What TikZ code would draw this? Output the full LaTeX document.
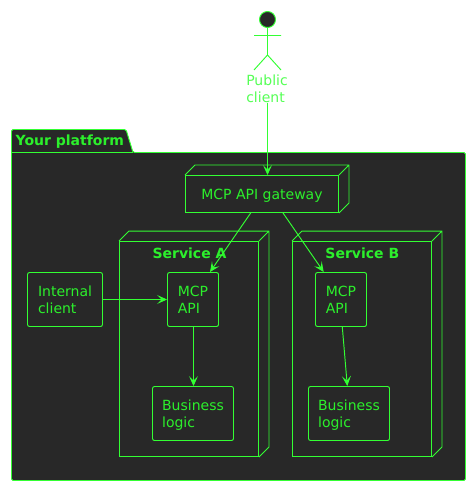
\documentclass[tikz,border=0pt]{standalone}
\usepackage{fontspec}
\setmainfont{DejaVu Sans}
\usetikzlibrary{arrows.meta}
\definecolor{grn}{HTML}{33FF33}
\definecolor{txt}{HTML}{2CF02C}
\definecolor{pub}{HTML}{55FF55}
\definecolor{bg}{HTML}{282828}
\tikzset{
  every node/.style={font=\fontsize{14}{17}\selectfont},
  base/.style={draw=grn,line width=0.95pt},
  boxa/.style={base,rectangle,rounded corners=2pt,fill=bg,text=txt,align=left,inner sep=0pt,anchor=center},
  frontface/.style={base,rectangle,fill=bg,inner sep=0pt,anchor=center},
  arr/.style={draw=grn,line width=0.95pt,-{Stealth[length=10pt,width=9pt,inset=4.5pt,fill=grn]}},
  lbl/.style={text=txt,inner sep=0pt,anchor=center,font=\fontsize{14}{17}\selectfont\bfseries},
}
\begin{document}
\begin{tikzpicture}[x=1pt,y=-1pt]
\useasboundingbox[fill=white] (0,0) rectangle (471,486);
% package
\draw[base,fill=bg,rounded corners=1.5pt] (11.5,152.5) -- (11.5,129.5) -- (126,129.5) -- (133,152.5) -- (465.5,152.5) -- (465.5,480.5) -- (11.5,480.5) -- cycle;
\draw[base] (11.5,152.5) -- (133,152.5);
\node[lbl,anchor=west] (pkg) at (15.5,140.5) {Your \smash{p}latform};
% actor
\node[circle,base,fill=bg,minimum size=16pt,inner sep=0pt] (head) at (267.5,19.5) {};
\coordinate (hip) at (267.5,55);
\coordinate (armL) at (254,35.5);
\coordinate (armR) at (281,35.5);
\coordinate (legL) at (254,70);
\coordinate (legR) at (281,70);
\draw[base] (head.south) -- (hip) (armL) -- (armR) (legL) -- (hip) -- (legR);
\node[text=pub,align=left,inner sep=0pt,anchor=center] (public) at (267,88.5) {Public\\client};
% gateway
\node[frontface,minimum width=153pt,minimum height=37pt,text=txt] (gw) at (262,194) {MCP API \smash{g}atewa\smash{y}};
\draw[base,line join=miter] (gw.north west) -- ([shift={(10pt,10pt)}]gw.north west) -- ([shift={(10pt,10pt)}]gw.north east) -- ([shift={(10pt,10pt)}]gw.south east) -- (gw.south east) (gw.north east) -- ([shift={(10pt,10pt)}]gw.north east);
% services
\node[frontface,minimum width=139pt,minimum height=215pt] (sa) at (189,349) {};
\draw[base,line join=miter] (sa.north west) -- ([shift={(10pt,10pt)}]sa.north west) -- ([shift={(10pt,10pt)}]sa.north east) -- ([shift={(10pt,10pt)}]sa.south east) -- (sa.south east) (sa.north east) -- ([shift={(10pt,10pt)}]sa.north east);
\node[lbl] (sal) at (189.5,253) {Service A};
\node[frontface,minimum width=139pt,minimum height=215pt] (sb) at (362,349) {};
\draw[base,line join=miter] (sb.north west) -- ([shift={(10pt,10pt)}]sb.north west) -- ([shift={(10pt,10pt)}]sb.north east) -- ([shift={(10pt,10pt)}]sb.south east) -- (sb.south east) (sb.north east) -- ([shift={(10pt,10pt)}]sb.north east);
\node[lbl] (sbl) at (362.3,253) {Service B};
% boxes
\node[boxa,minimum width=75pt,minimum height=54pt] (ic) at (65,299.5) {Internal\\client};
\node[boxa,minimum width=51pt,minimum height=54pt] (ma) at (193,299.5) {MCP\\API};
\node[boxa,minimum width=51pt,minimum height=54pt] (mb) at (341,299.5) {MCP\\API};
\node[boxa,minimum width=81pt,minimum height=54pt] (ba) at (193,413.5) {Business\\lo\smash{g}ic};
\node[boxa,minimum width=81pt,minimum height=54pt] (bb) at (349,413.5) {Business\\lo\smash{g}ic};
% connectors
\draw[arr] ([xshift=0.5pt]public.south) -- ([xshift=5.5pt]gw.north);
\draw[arr] ([xshift=-11.3pt]gw.south) -- ([xshift=17pt]ma.north);
\draw[arr] ([xshift=21pt]gw.south) -- ([xshift=-17.3pt]mb.north);
\draw[arr] (ic.east) -- (ma.west);
\draw[arr] ([xshift=0.5pt]ma.south) -- ([xshift=0.5pt]ba.north);
\draw[arr] ([xshift=1.3pt]mb.south) -- ([xshift=-1.7pt]bb.north);
\end{tikzpicture}
\end{document}
